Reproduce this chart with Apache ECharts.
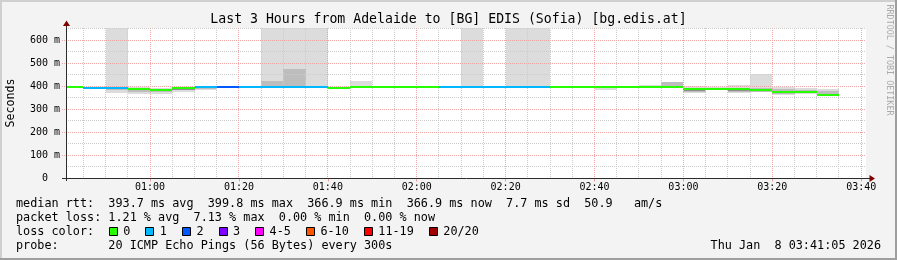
<!DOCTYPE html>
<html><head><meta charset="utf-8">
<script src="https://cdn.jsdelivr.net/npm/echarts@6/dist/echarts.min.js"></script>
<style>html,body{margin:0;padding:0;background:#f3f3f3}#c{width:897px;height:260px}</style>
</head><body><div id="c"></div>
<script>
// ---- data (minutes since 00:00) ----
const startMin = 41 + 5 / 60;   // 00:41:05
const endMin = 221 + 5 / 60;    // 03:41:05
const binStart = [40,45,50,55,60,65,70,75,80,85,90,95,100,105,110,115,120,125,130,135,140,145,150,155,160,165,170,175,180,185,190,195,200,205,210];
const medianRtt = [399.6,395.5,395.5,390.5,388.5,395.0,398.5,399.5,399.5,399.5,399.5,399.5,394.5,399.5,399.5,399.5,399.5,399.5,399.5,399.5,399.5,399.5,399.5,399.2,399.2,399.5,399.5,399.8,389.5,389.5,389.0,388.5,378.0,378.0,366.9];
const lossIdx   = [0,1,1,0,0,0,1,2,1,1,1,1,0,0,0,0,0,1,1,1,1,1,0,0,0,0,0,0,0,0,0,0,0,0,0];
const smokeLo = [398,393,372,368,368,376,385,397,398,399,399,399,392,399,398.5,398.5,398.5,393,399,398.5,399,399,398.5,396,385,398.5,398,393,372,384,372,374,364,366,365];
const smokeHi = [400.5,397,700,396,395,397,399.5,400.5,400.5,700,700,700,397,425,400.5,400.5,400.5,400.5,700,400.5,700,700,400.5,400.5,400.5,400.5,407,421,400,398,405,455,397,392,390];
const midLo = [null,null,383,376,374,384,391,null,null,399,399,null,null,null,null,null,null,null,null,null,null,null,null,null,null,null,null,401,378,387,378,378,368,370,368];
const midHi = [null,null,394,389,388,393,398,null,null,425,477,null,null,null,null,null,null,null,null,null,null,null,null,null,null,null,null,419,390,393,392,395,388,385,380];
const darkLo = [null,null,null,null,379,386,null,null,null,null,null,null,null,null,null,null,null,null,null,null,null,null,null,null,null,null,null,null,382,null,382,380,372,376,null];
const darkHi = [null,null,null,null,384,389,null,null,null,null,null,null,null,null,null,null,null,null,null,null,null,null,null,null,null,null,null,null,386,null,386,384,376,379,null];
const xMajorTicks = [60,80,100,120,140,160,180,200,220];
const xMinorTicks = [45,50,55,65,70,75,85,90,95,105,110,115,125,130,135,145,150,155,165,170,175,185,190,195,205,210,215];
const yMajorTicks = [0,100,200,300,400,500,600];
const yMinorTicks = [50,150,250,350,450,550,650];
const lossColors = ['#26ff00','#00b8ff','#0059ff','#7e00ff','#ff00ff','#ff5500','#ff0000','#a10000'];
const lossLabels = ['0','1','2','3','4-5','6-10','11-19','20/20'];
const titleText = 'Last 3 Hours from Adelaide to [BG] EDIS (Sofia) [bg.edis.at]';
const row1 = 'median rtt:  393.7 ms avg  399.8 ms max  366.9 ms min  366.9 ms now  7.7 ms sd  50.9   am/s';
const row2 = 'packet loss: 1.21 % avg  7.13 % max  0.00 % min  0.00 % now';
const row3 = 'loss color:';
const row4 = 'probe:       20 ICMP Echo Pings (56 Bytes) every 300s';
const dateText = 'Thu Jan  8 03:41:05 2026';

// ---- layout ----
const MONO = '"DejaVu Sans Mono", monospace';
const G = {left: 66, top: 28, width: 800, height: 150.5};
const yMax = 654;
const shades = ['#dcdcdc', '#bdbdbd', '#8e8e8e'];

const smokeData = [];
binStart.forEach((s, i) => {
  smokeData.push([s, s + 5, smokeLo[i], smokeHi[i], 0]);
  if (midLo[i] != null) smokeData.push([s, s + 5, midLo[i], midHi[i], 1]);
  if (darkLo[i] != null) smokeData.push([s, s + 5, darkLo[i], darkHi[i], 2]);
});
const medianData = binStart.map((s, i) => [s, s + 5, medianRtt[i], lossIdx[i]]);
const gridData = [];
xMinorTicks.forEach(v => gridData.push([v, 0, 0]));
yMinorTicks.forEach(v => gridData.push([v, 1, 0]));
xMajorTicks.forEach(v => gridData.push([v, 0, 1]));
yMajorTicks.filter(v => v > 0).forEach(v => gridData.push([v, 1, 1]));

function hhmm(v) { const h = Math.floor(v / 60), m = Math.round(v % 60); return String(h).padStart(2, '0') + ':' + String(m).padStart(2, '0'); }

const chart = echarts.init(document.getElementById('c'), null, {renderer: 'canvas'});

function txt(text, x, y, size, align, extra) {
  return Object.assign({type: 'text', silent: true, x: x, y: y, style: {text: text, fontFamily: MONO, fontSize: size, fill: '#000', textAlign: align, textVerticalAlign: 'middle', align: align, verticalAlign: 'middle'}}, extra || {});
}

const graphics = [
  {type: 'rect', silent: true, shape: {x: 0, y: 0, width: 897, height: 2}, style: {fill: '#cfcfcf'}},
  {type: 'rect', silent: true, shape: {x: 0, y: 0, width: 2, height: 260}, style: {fill: '#cfcfcf'}},
  {type: 'rect', silent: true, shape: {x: 0, y: 258, width: 897, height: 2}, style: {fill: '#9e9e9e'}},
  {type: 'rect', silent: true, shape: {x: 895, y: 0, width: 2, height: 260}, style: {fill: '#9e9e9e'}},
  txt(titleText, 448.5, 19.5, 13.2, 'center'),
  txt('Seconds', 10.5, 103, 11.6, 'center', {rotation: Math.PI / 2}),
  txt('RRDTOOL / TOBI OETIKER', 889, 60, 8.4, 'center', {rotation: -Math.PI / 2}),
  txt(row1, 16, 204, 11.8, 'left'),
  txt(row2, 16, 218, 11.8, 'left'),
  txt(row3, 16, 232, 11.8, 'left'),
  txt(row4, 16, 246, 11.8, 'left'),
  txt(dateText, 881, 246, 11.8, 'right'),
  // axes
  {type: 'line', silent: true, z: 100, shape: {x1: 62, y1: 178.5, x2: 871, y2: 178.5}, style: {stroke: '#2c2c2c', lineWidth: 1}},
  {type: 'line', silent: true, z: 100, shape: {x1: 66.5, y1: 181, x2: 66.5, y2: 24}, style: {stroke: '#2c2c2c', lineWidth: 1}},
  {type: 'polygon', silent: true, z: 101, shape: {points: [[66.5, 20.5], [63, 26], [70, 26]]}, style: {fill: '#7f0000'}},
  {type: 'polygon', silent: true, z: 101, shape: {points: [[875, 178.5], [869.5, 175], [869.5, 182]]}, style: {fill: '#7f0000'}}
];
// RRDTOOL label color
graphics[6].style.fill = '#a9a9a9';

// loss colour legend boxes
let bx = 108.7;
lossLabels.forEach((lab, i) => {
  graphics.push({type: 'rect', silent: true, shape: {x: Math.round(bx) + 0.5, y: 227.5, width: 8, height: 8}, style: {fill: lossColors[i], stroke: '#000', lineWidth: 1}});
  const lx = bx + 14.5;
  graphics.push(txt(lab, lx, 232, 11.8, 'left'));
  bx = lx + lab.length * 7.1 + 15;
});

chart.setOption({
  animation: false,
  backgroundColor: '#f3f3f3',
  grid: Object.assign({show: true, backgroundColor: '#ffffff', borderWidth: 0}, G),
  xAxis: {
    type: 'value', min: startMin, max: endMin,
    axisLine: {show: false},
    axisTick: {show: true, customValues: xMajorTicks, length: 3, lineStyle: {color: '#e6a0a0'}},
    axisLabel: {customValues: xMajorTicks, formatter: hhmm, fontFamily: MONO, fontSize: 10, color: '#000', margin: 4},
    splitLine: {show: false}
  },
  yAxis: {
    type: 'value', min: 0, max: yMax,
    axisLine: {show: false},
    axisTick: {show: false},
    axisLabel: {customValues: yMajorTicks, formatter: v => v === 0 ? '0  ' : v + ' m', fontFamily: MONO, fontSize: 10, color: '#000', margin: 6},
    splitLine: {show: false}
  },
  series: [
    {
      type: 'custom', z: 1, silent: true, data: smokeData,
      renderItem: function (params, api) {
        const cs = params.coordSys;
        const a = api.coord([api.value(0), api.value(3)]);
        const b = api.coord([api.value(1), api.value(2)]);
        const r = echarts.graphic.clipRectByRect(
          {x: Math.round(a[0]), y: Math.round(a[1]), width: Math.round(b[0]) - Math.round(a[0]), height: Math.round(b[1]) - Math.round(a[1])},
          {x: cs.x, y: cs.y, width: cs.width, height: cs.height});
        if (!r) return null;
        return {type: 'rect', shape: r, style: {fill: shades[api.value(4)]}};
      }
    },
    {
      type: 'custom', z: 2, silent: true, data: gridData,
      renderItem: function (params, api) {
        const cs = params.coordSys;
        const v = api.value(0), isY = api.value(1) === 1, major = api.value(2) === 1;
        const color = major ? '#eea6a6' : '#cccccc';
        let shape;
        if (!isY) {
          const x = Math.floor(api.coord([v, 0])[0]) + 0.5;
          shape = {x1: x, y1: cs.y, x2: x, y2: cs.y + cs.height - 0.5};
        } else {
          const y = Math.floor(api.coord([startMin, v])[1]) + 0.5;
          shape = {x1: cs.x - (major ? 4 : 0), y1: y, x2: cs.x + cs.width, y2: y};
        }
        return {type: 'line', shape: shape, style: {stroke: color, lineWidth: 1, lineDash: [1, 1]}};
      }
    },
    {
      type: 'custom', z: 3, silent: true, data: medianData,
      renderItem: function (params, api) {
        const cs = params.coordSys;
        const x1 = Math.max(cs.x + 1, Math.round(api.coord([api.value(0), 0])[0]));
        const x2 = Math.round(api.coord([api.value(1), 0])[0]);
        const y = Math.floor(api.coord([startMin, api.value(2)])[1]) + 1;
        return {type: 'line', shape: {x1: x1, y1: y, x2: x2, y2: y}, style: {stroke: lossColors[api.value(3)], lineWidth: 2}};
      }
    }
  ],
  graphic: graphics
});
</script></body></html>
